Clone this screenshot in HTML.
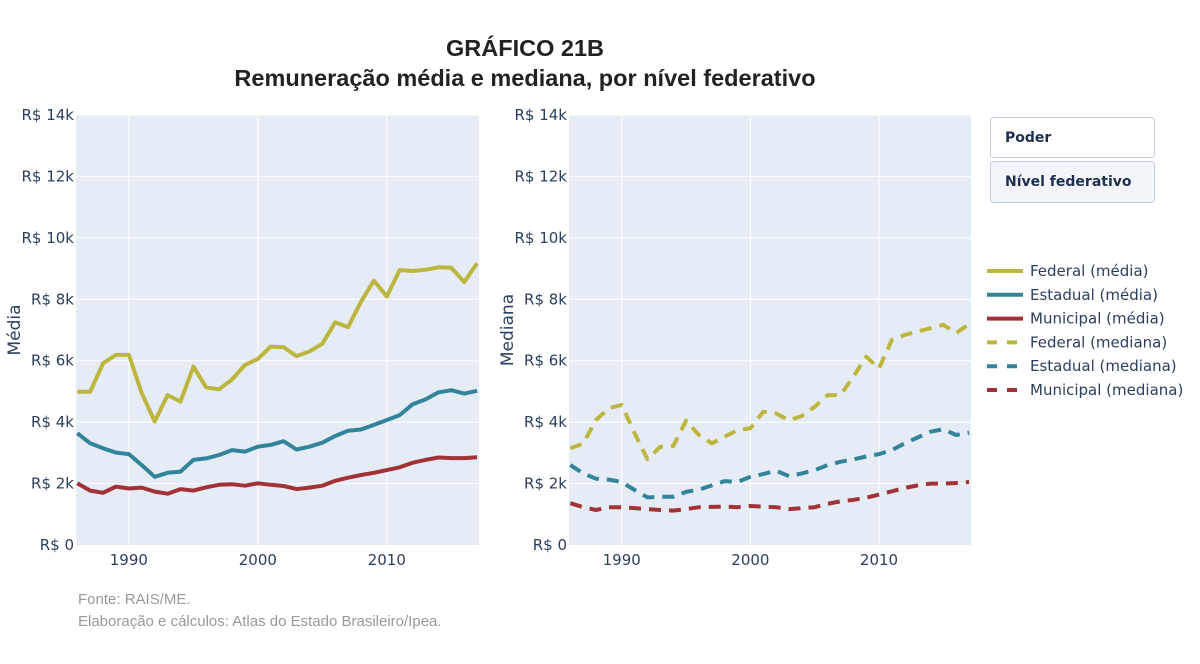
<!DOCTYPE html>
<html><head><meta charset="utf-8"><style>
body{margin:0;background:#fff;width:1200px;height:664px;overflow:hidden}
svg{display:block}
.t{font-family:"DejaVu Sans",sans-serif;fill:#2a3f5f;font-size:15px}
</style></head><body>
<svg id="c" width="1200" height="664" xmlns="http://www.w3.org/2000/svg">
<text x="525" y="56" text-anchor="middle" font-family="Liberation Sans,sans-serif" font-weight="bold" font-size="23.5" fill="#222">GRÁFICO 21B</text>
<text x="525" y="86" text-anchor="middle" font-family="Liberation Sans,sans-serif" font-weight="bold" font-size="23.5" fill="#222">Remuneração média e mediana, por nível federativo</text>
<g><rect x="990.5" y="117.5" width="164" height="40" rx="3" fill="#fff" stroke="#c3cde0"/><text x="1005" y="142" font-family="DejaVu Sans,sans-serif" font-weight="bold" font-size="14" fill="#1e2f4d">Poder</text></g>
<g><rect x="990.5" y="161.5" width="164" height="41" rx="3" fill="#f2f6fb" stroke="#c3cde0"/><text x="1005" y="186" font-family="DejaVu Sans,sans-serif" font-weight="bold" font-size="14" fill="#1e2f4d">Nível federativo</text></g>
<text x="78" y="604" font-family="Liberation Sans,sans-serif" font-size="15" fill="#999">Fonte: RAIS/ME.</text>
<text x="78" y="626" font-family="Liberation Sans,sans-serif" font-size="15" fill="#999">Elaboração e cálculos: Atlas do Estado Brasileiro/Ipea.</text>
</svg>
<script>
const years=[];for(let y=1986;y<=2017;y++)years.push(y);
const fedMedia=[4.99,4.99,5.92,6.19,6.19,4.94,4.02,4.88,4.67,5.81,5.13,5.07,5.39,5.86,6.06,6.46,6.44,6.15,6.3,6.55,7.25,7.09,7.92,8.61,8.09,8.95,8.92,8.96,9.04,9.03,8.56,9.17];
const estMedia=[3.64,3.31,3.15,3.01,2.96,2.6,2.22,2.35,2.39,2.77,2.82,2.93,3.09,3.04,3.2,3.26,3.38,3.11,3.2,3.33,3.55,3.72,3.76,3.91,4.07,4.23,4.58,4.74,4.97,5.04,4.93,5.02];
const munMedia=[2.01,1.77,1.7,1.9,1.84,1.87,1.74,1.67,1.82,1.77,1.88,1.96,1.98,1.93,2.01,1.96,1.92,1.82,1.87,1.93,2.09,2.19,2.28,2.35,2.44,2.53,2.68,2.77,2.85,2.83,2.83,2.86];
const fedMediana=[3.15,3.3,4.07,4.45,4.56,3.64,2.79,3.2,3.22,4.05,3.58,3.31,3.53,3.74,3.8,4.34,4.28,4.06,4.2,4.5,4.88,4.88,5.48,6.13,5.75,6.68,6.84,6.95,7.06,7.17,6.9,7.2];
const estMediana=[2.6,2.33,2.16,2.13,2.05,1.79,1.55,1.57,1.57,1.73,1.8,1.94,2.08,2.05,2.22,2.31,2.42,2.24,2.33,2.44,2.6,2.71,2.79,2.88,2.96,3.09,3.31,3.5,3.69,3.77,3.58,3.66];
const munMediana=[1.36,1.23,1.14,1.23,1.23,1.2,1.17,1.14,1.12,1.17,1.23,1.24,1.25,1.23,1.27,1.25,1.23,1.17,1.2,1.23,1.34,1.42,1.47,1.54,1.64,1.75,1.86,1.94,2.0,2.0,2.02,2.05];
const yTicks=[0,2,4,6,8,10,12,14];
const xTicks=[1990,2000,2010];
const NS="http://www.w3.org/2000/svg",svg=document.getElementById('c');
const C={fed:"#bdb63e",est:"#32849a",mun:"#a33236"};
function mk(t,a,p){const e=document.createElementNS(NS,t);for(const k in a)e.setAttribute(k,a[k]);(p||svg).appendChild(e);return e;}
function panel(x0,x1,title,series,name){
  const yT=115,yB=545;
  const X=v=>x0+(v-1985.9)/(2017.15-1985.9)*(x1-x0);
  const Y=v=>yB-v/14*(yB-yT);
  const g=mk('g',{});
  
  
  mk('rect',{x:x0,y:yT,width:x1-x0,height:yB-yT,fill:'#e5ecf6'},g);
  yTicks.forEach(v=>{
    if(v>0)mk('line',{x1:x0,x2:x1,y1:Y(v),y2:Y(v),stroke:'#fff','stroke-width':1},g);
    const t=mk('text',{x:x0-2,y:Y(v)+5,'text-anchor':'end',class:'t'},g);t.textContent='R$ '+(v?v+'k':'0');
    
    
  });
  xTicks.forEach(v=>{
    mk('line',{x1:X(v),x2:X(v),y1:yT,y2:yB,stroke:'#fff','stroke-width':1},g);
    const t=mk('text',{x:X(v),y:yB+20,'text-anchor':'middle',class:'t'},g);t.textContent=v;
    
    
  });
  const at=mk('text',{x:0,y:0,transform:`translate(${x0-56},${(yT+yB)/2}) rotate(-90)`,'text-anchor':'middle',class:'t',style:'font-size:17px'},g);at.textContent=title;
  
  
  const cp='cp'+name;const cl=mk('clipPath',{id:cp},g);mk('rect',{x:x0,y:yT,width:x1-x0,height:yB-yT},cl);
  series.forEach(s=>{
    const d=s.vals.map((v,i)=>(i?'L':'M')+X(years[i]).toFixed(1)+','+Y(v).toFixed(1)).join('');
    const p=mk('path',{d:d,fill:'none',stroke:s.c,'stroke-width':4,'stroke-linejoin':'round','clip-path':`url(#${cp})`},g);
    if(s.dash)p.setAttribute('stroke-dasharray','12,8');
    
    
  });
}
panel(76,479,'Média',[{vals:fedMedia,c:C.fed,n:'federal-media-line'},{vals:estMedia,c:C.est,n:'estadual-media-line'},{vals:munMedia,c:C.mun,n:'municipal-media-line'}],'media-panel');
panel(569,971,'Mediana',[{vals:fedMediana,c:C.fed,dash:1,n:'federal-mediana-line'},{vals:estMediana,c:C.est,dash:1,n:'estadual-mediana-line'},{vals:munMediana,c:C.mun,dash:1,n:'municipal-mediana-line'}],'mediana-panel');
const leg=[['Federal (média)',C.fed,0],['Estadual (média)',C.est,0],['Municipal (média)',C.mun,0],['Federal (mediana)',C.fed,1],['Estadual (mediana)',C.est,1],['Municipal (mediana)',C.mun,1]];
leg.forEach((l,i)=>{
  const y=271+i*23.8;
  const g=mk('g',{});
  
  
  const ln=mk('line',{x1:987,x2:1023,y1:y,y2:y,stroke:l[1],'stroke-width':4},g);
  if(l[2])ln.setAttribute('stroke-dasharray','10,10');
  const t=mk('text',{x:1030,y:y+5,class:'t'},g);t.textContent=l[0];
});
</script>
</body></html>
